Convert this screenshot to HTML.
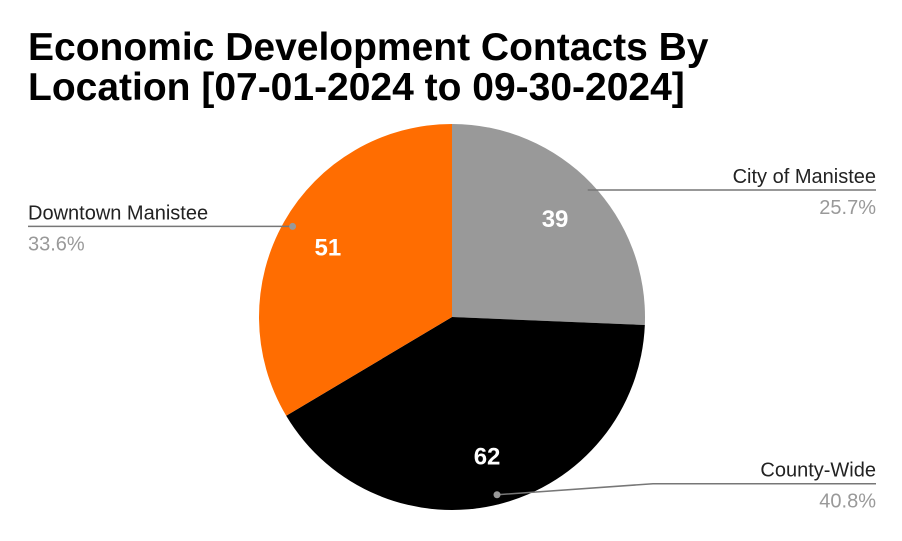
<!DOCTYPE html>
<html><head><meta charset="utf-8"><style>
body{margin:0;background:#fff;width:902px;height:536px;overflow:hidden;font-family:"Liberation Sans",Arial,sans-serif}
</style></head><body>
<svg width="902" height="536" xmlns="http://www.w3.org/2000/svg">
<text x="28" y="60" font-size="39" font-weight="bold" fill="#000">Economic Development Contacts By</text>
<text x="28" y="100" font-size="39" font-weight="bold" fill="#000">Location [07-01-2024 to 09-30-2024]</text>
<g id="slices"></g>
<g id="labels"></g>
</svg>
<script>
const categories = ["City of Manistee", "County-Wide", "Downtown Manistee"];
const values = [39, 62, 51];
const colors = ["#999999", "#000000", "#ff6d01"];
const cx = 452, cy = 317, r = 193;
const NS = "http://www.w3.org/2000/svg";
const total = values.reduce((a, b) => a + b, 0);
const sg = document.getElementById('slices');
const lg = document.getElementById('labels');
function pt(a, rr) { return [cx + rr * Math.sin(a), cy - rr * Math.cos(a)]; }
function mk(tag, attrs, parent) { const e = document.createElementNS(NS, tag); for (const k in attrs) e.setAttribute(k, attrs[k]); parent.appendChild(e); return e; }
let a0 = 0;
const sides = ['right', 'right', 'left'];
values.forEach((v, i) => {
  const a1 = a0 + v / total * 2 * Math.PI;
  const p0 = pt(a0, r), p1 = pt(a1, r);
  const large = (a1 - a0) > Math.PI ? 1 : 0;
  const path = mk('path', { d: `M${cx},${cy} L${p0[0]},${p0[1]} A${r},${r} 0 ${large} 1 ${p1[0]},${p1[1]} Z`, fill: colors[i] }, sg);
  
  
  const am = (a0 + a1) / 2;
  const vp = pt(am, r * 0.74);
  const vt = mk('text', { x: vp[0], y: vp[1] + 9, 'font-size': 24, 'font-weight': 'bold', fill: '#fff', 'text-anchor': 'middle' }, lg);
  vt.textContent = v;
  
  
  const dp = pt(am, r * 0.95);
  const side = sides[i];
  const lx = side === 'right' ? 876 : 28;
  let ty, d;
  if (dp[1] > cy + 120) {
    ty = dp[1] - 11;
    d = `M${dp[0]},${dp[1]} L${dp[0] + 156},${ty} L${lx},${ty}`;
  } else {
    ty = dp[1];
    d = `M${dp[0]},${dp[1]} L${lx},${ty}`;
  }
  const line = mk('path', { d: d, stroke: '#777', 'stroke-width': 1.5, fill: 'none' }, lg);
  
  
  const dot = mk('circle', { cx: dp[0], cy: dp[1], r: 3.5, fill: '#999' }, lg);
  
  
  const anchor = side === 'right' ? 'end' : 'start';
  const nt = mk('text', { x: lx, y: ty - 7, 'font-size': 20, fill: '#222', 'text-anchor': anchor }, lg);
  nt.textContent = categories[i];
  
  
  const pctT = mk('text', { x: lx, y: ty + 24, 'font-size': 20, fill: '#999', 'text-anchor': anchor }, lg);
  pctT.textContent = (v / total * 100).toFixed(1) + '%';
  
  
  a0 = a1;
});
</script>
</body></html>
